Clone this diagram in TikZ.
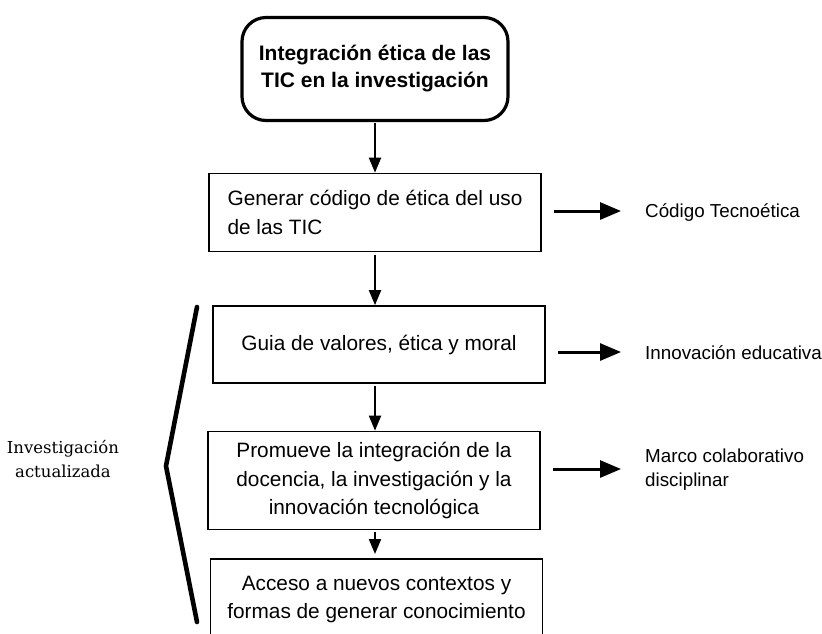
\documentclass[tikz,border=0pt]{standalone}
\usepackage{fontspec}
\setmainfont{Liberation Sans}
\newfontfamily\sideserif{DejaVu Serif}
\usetikzlibrary{arrows.meta}
\tikzset{
  box/.style={draw, line width=1.7pt, minimum width=332pt, inner sep=0pt,
    font=\fontsize{20.8}{28.8}\selectfont, align=center},
  link/.style={line width=2pt, -{Triangle[length=15pt,width=12pt]}},
  outlink/.style={line width=3pt, -{Triangle[length=21pt,width=17pt]}},
  side/.style={anchor=west, inner sep=0pt, font=\fontsize{18.8}{24}\selectfont, align=left},
}

\begin{document}
\begin{tikzpicture}[x=1pt,y=-1pt]
  \useasboundingbox (0,0) rectangle (822,633);
  \clip (0,0) rectangle (822,633);

  % main column
  \node (top) at (375,69) [draw, rounded corners=24pt, line width=3.2pt,
    minimum width=266pt, minimum height=103pt, align=center,
    font=\bfseries\fontsize{21}{27}\selectfont]
    {Integración ética de las\\TIC en la investigación};
  \node (gen) at (375,212.5) [box, minimum height=78pt, align=left]
    {Generar código de ética del uso\\de las TIC};
  \node (gui) at (379,344.5) [box, minimum height=77pt]
    {Guia de valores, ética y moral};
  \node (pro) at (374,480.5) [box, minimum height=98pt]
    {Promueve la integración de la\\docencia, la investigación y la\\innovación tecnológica};
  \node (acc) at (376.5,558) [box, anchor=north, inner ysep=17pt, text depth=60pt]
    {Acceso a nuevos contextos y\\formas de generar conocimiento};

  \draw[link, shorten <=1pt] (top) -- (top |- gen.north);
  \draw[link, shorten <=3pt] (gen.south) -- (gen.south |- gui.north);
  \draw[link, shorten <=2pt] (gen.south |- gui.south) -- (gen.south |- pro.north);
  \draw[link, shorten <=2pt, shorten >=4pt] (gen.south |- pro.south) -- (gen.south |- acc.north);

  % results on the right
  \node (cod) at (645,213) [side] {Código Tecnoética};
  \node (inn) at (645,353) [side] {Innovación educativa};
  \node (mar) at (645,470) [side] {Marco colaborativo\\disciplinar};
  \foreach \a/\b/\y in {gen/cod/211, gui/inn/352, pro/mar/469}
    \draw[outlink, shorten >=24pt] (\a.east |- 0,\y) ++(12,0) -- (\b.west |- 0,\y);

  % bracket and its label
  \draw[line width=4.6pt, line cap=round, line join=round] (197,307) -- (166,466) -- (197,622);
  \node (inv) at (63,459) [align=center, font=\sideserif\fontsize{16.5}{24}\selectfont]
    {Investigación\\actualizada};
\end{tikzpicture}
\end{document}
